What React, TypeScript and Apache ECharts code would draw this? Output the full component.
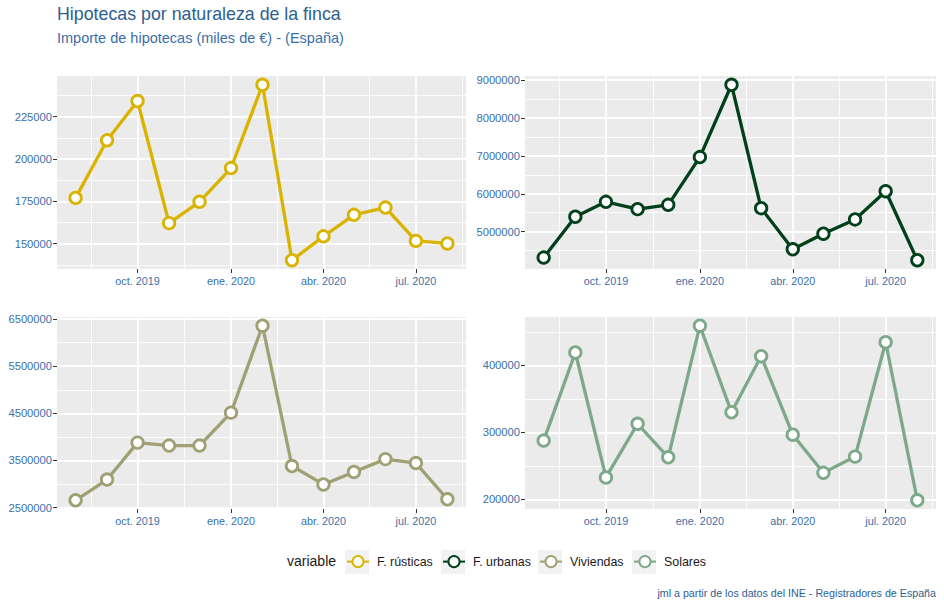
import React, { useEffect, useRef } from 'react';
import * as echarts from 'echarts';

// ---- data ----
const months = ['2019-08-01', '2019-09-01', '2019-10-01', '2019-11-01', '2019-12-01', '2020-01-01', '2020-02-01', '2020-03-01', '2020-04-01', '2020-05-01', '2020-06-01', '2020-07-01', '2020-08-01'];
const seriesNames = ['F. rústicas', 'F. urbanas', 'Viviendas', 'Solares'];
const rusticas = [177000, 211000, 234200, 162100, 174700, 194600, 243800, 140200, 154300, 167000, 171300, 151600, 150100];
const urbanas = [4317000, 5394000, 5788000, 5595000, 5709000, 6969000, 8877000, 5621000, 4536000, 4947000, 5324000, 6068000, 4247000];
const viviendas = [2654000, 3094000, 3878000, 3815000, 3815000, 4514000, 6360000, 3381000, 2990000, 3255000, 3528000, 3444000, 2675000];
const solares = [287700, 419300, 232600, 312800, 262700, 459300, 330100, 413800, 296500, 239500, 263700, 434600, 198500];

const xTickDates = ['2019-10-01', '2020-01-01', '2020-04-01', '2020-07-01'];
const xTickLabels = ['oct. 2019', 'ene. 2020', 'abr. 2020', 'jul. 2020'];
const xMinorDates = ['2019-08-16', '2019-11-16', '2020-02-15T12:00', '2020-05-16T12:00', '2020-08-16'];

const rusticasTicks = [150000, 175000, 200000, 225000];
const rusticasMinor = [137500, 162500, 187500, 212500, 237500];
const urbanasTicks = [5000000, 6000000, 7000000, 8000000, 9000000];
const urbanasMinor = [4500000, 5500000, 6500000, 7500000, 8500000];
const viviendasTicks = [2500000, 3500000, 4500000, 5500000, 6500000];
const viviendasMinor = [3000000, 4000000, 5000000, 6000000];
const solaresTicks = [200000, 300000, 400000];
const solaresMinor = [250000, 350000, 450000];

const colors = ['#d9b300', '#00401a', '#a0a075', '#7da889'];

const FONT = '"Liberation Sans", Arial, Helvetica, sans-serif';

const toTs = (s: string) => {
  const [d, t] = s.split('T');
  const [y, m, dd] = d.split('-').map(Number);
  const h = t ? Number(t.split(':')[0]) : 0;
  return Date.UTC(y, m - 1, dd, h);
};

export default function App() {
  const ref = useRef<HTMLDivElement>(null);
  useEffect(() => {
    document.body.style.margin = '0';
    const chart = echarts.init(ref.current!, null, { renderer: 'svg' });

    const dates = months.map(toTs);
    const xMin = dates[0] - 0.05 * (dates[dates.length - 1] - dates[0]);
    const xMax = dates[dates.length - 1] + 0.05 * (dates[dates.length - 1] - dates[0]);
    const xTicks = xTickDates.map(toTs);
    const xMinor = xMinorDates.map(toTs);

    const panels = [
      { data: rusticas, ticks: rusticasTicks, minor: rusticasMinor, left: 57, top: 76, width: 409, height: 193 },
      { data: urbanas, ticks: urbanasTicks, minor: urbanasMinor, left: 525, top: 76, width: 411, height: 193 },
      { data: viviendas, ticks: viviendasTicks, minor: viviendasMinor, left: 57, top: 317, width: 409, height: 192 },
      { data: solares, ticks: solaresTicks, minor: solaresMinor, left: 525, top: 317, width: 411, height: 192 },
    ];

    const grid: any[] = [];
    const xAxis: any[] = [];
    const yAxis: any[] = [];
    const series: any[] = [];

    panels.forEach((p, i) => {
      const lo = Math.min(...p.data);
      const hi = Math.max(...p.data);
      const r = hi - lo;
      const yMin = lo - 0.05 * r;
      const yMax = hi + 0.05 * r;
      grid.push({
        left: p.left, top: p.top, width: p.width, height: p.height,
        show: true, backgroundColor: '#ebebeb', borderWidth: 0, containLabel: false,
      });
      xAxis.push({
        type: 'value', gridIndex: i, min: xMin, max: xMax, position: 'bottom',
        axisLine: { show: false },
        axisTick: { show: true, length: 4, lineStyle: { color: '#333333', width: 1 }, customValues: xTicks },
        axisLabel: {
          show: true, customValues: xTicks, margin: 6, fontSize: 10.8, color: '#3b6fa6', fontFamily: FONT,
          formatter: (v: number) => {
            const k = xTicks.findIndex((t) => Math.abs(t - v) < 1000);
            return k >= 0 ? xTickLabels[k] : '';
          },
        },
        splitLine: { show: true, lineStyle: { color: '#ffffff', width: 1.8 } },
      });
      xAxis.push({
        type: 'value', gridIndex: i, min: xMin, max: xMax, position: 'top',
        axisLine: { show: false },
        axisTick: { show: false, customValues: xMinor },
        axisLabel: { show: false, customValues: xMinor },
        splitLine: { show: true, lineStyle: { color: '#ffffff', width: 0.9 } },
      });
      yAxis.push({
        type: 'value', gridIndex: i, min: yMin, max: yMax, position: 'left',
        axisLine: { show: false },
        axisTick: { show: true, length: 4, lineStyle: { color: '#333333', width: 1 }, customValues: p.ticks },
        axisLabel: {
          show: true, customValues: p.ticks, margin: 5, fontSize: 11.2, color: '#3b6fa6', fontFamily: FONT,
          formatter: (v: number) => String(Math.round(v)),
        },
        splitLine: { show: true, lineStyle: { color: '#ffffff', width: 1.8 } },
      });
      yAxis.push({
        type: 'value', gridIndex: i, min: yMin, max: yMax, position: 'right',
        axisLine: { show: false },
        axisTick: { show: false, customValues: p.minor },
        axisLabel: { show: false, customValues: p.minor },
        splitLine: { show: true, lineStyle: { color: '#ffffff', width: 0.9 } },
      });
      series.push({
        type: 'line', name: seriesNames[i], xAxisIndex: 2 * i, yAxisIndex: 2 * i,
        data: p.data.map((v, k) => [dates[k], v]),
        symbol: 'circle', symbolSize: 11.5,
        color: colors[i],
        lineStyle: { color: colors[i], width: 3.3 },
        itemStyle: { color: '#ffffff', borderColor: colors[i], borderWidth: 2.8 },
        emphasis: { disabled: true },
        z: 3,
      });
    });

    const keyBoxes = [345, 441, 538, 632];
    const legend = seriesNames.map((n, i) => ({
      data: [n], left: keyBoxes[i] + 1, top: 555, padding: 0,
      itemWidth: 22, itemHeight: 14, selectedMode: false,
      textStyle: { fontSize: 12.4, color: '#1a1a1a', fontFamily: FONT, padding: [0, 0, 0, 3] },
    }));

    const graphic: any[] = [
      { type: 'text', left: 57, top: 5, style: { text: 'Hipotecas por naturaleza de la finca', fontSize: 17.8, fill: '#2c5e90', fontFamily: FONT } },
      { type: 'text', left: 57, top: 30, style: { text: 'Importe de hipotecas (miles de €) - (España)', fontSize: 14.5, fill: '#3a6ea8', fontFamily: FONT } },
      { type: 'text', left: 287, top: 554, style: { text: 'variable', fontSize: 14, fill: '#1a1a1a', fontFamily: FONT } },
      { type: 'text', right: 8, top: 587, style: { text: 'jml a partir de los datos del INE - Registradores de España', fontSize: 10.7, fill: '#2e6094', fontFamily: FONT } },
      ...keyBoxes.map((x) => ({ type: 'rect', shape: { x, y: 550, width: 24, height: 24 }, style: { fill: '#f2f2f2' }, z: -10 })),
    ];

    chart.setOption({
      animation: false,
      backgroundColor: '#ffffff',
      textStyle: { fontFamily: FONT },
      grid, xAxis, yAxis, series, legend, graphic,
      tooltip: { show: false },
    });
    return () => chart.dispose();
  }, []);
  return <div ref={ref} style={{ width: 944, height: 607 }} />;
}
